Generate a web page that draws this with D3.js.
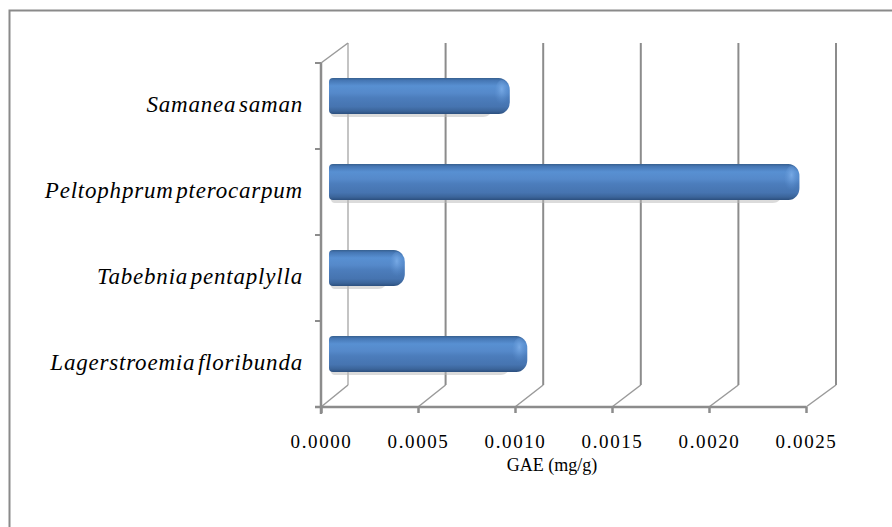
<!DOCTYPE html>
<html>
<head>
<meta charset="utf-8">
<script src="https://cdn.jsdelivr.net/npm/d3@7/dist/d3.min.js"></script>
<style>
  html, body { margin: 0; padding: 0; background: #ffffff; }
  svg { display: block; }
</style>
</head>
<body>
<div id="chart"></div>
<script>
// ---- data ----
const categories = ["Samanea saman", "Peltophprum pterocarpum", "Tabebnia pentaplylla", "Lagerstroemia floribunda"];
const values = [0.00093, 0.00242, 0.00039, 0.00102];
const tickValues = [0, 0.0005, 0.0010, 0.0015, 0.0020, 0.0025];
const tickLabels = ["0.0000", "0.0005", "0.0010", "0.0015", "0.0020", "0.0025"];
const axisTitle = "GAE (mg/g)";

// ---- layout ----
const W = 892, H = 527;
const svg = d3.select("#chart").append("svg").attr("width", W).attr("height", H);

const frontLeft = 321, frontRight = 806, frontTop = 63, frontBottom = 407;

const xFront = d3.scaleLinear().domain([0, 0.0025]).range([frontLeft, frontRight]);
const xBack = d3.scaleLinear().domain([0, 0.0025]).range([frontLeft + 27, frontRight + 30]);
const xBar = d3.scaleLinear().domain([0, 0.0025]).range([329, 815]);
const yBand = d3.scaleBand().domain(categories).range([frontTop, frontBottom]).padding(0);

const gridColor = "#8c8c8c";
const serif = "Liberation Serif";

// outer frame
svg.append("rect").attr("x", 9.5).attr("y", 10.5).attr("width", 950).attr("height", 600)
  .attr("fill", "none").attr("stroke", "#8a8a8a").attr("stroke-width", 2);

// defs
const defs = svg.append("defs");
const grad = defs.append("linearGradient").attr("id", "barGrad")
  .attr("x1", 0).attr("y1", 0).attr("x2", 0).attr("y2", 1);
[["0%", "#36608f"], ["7%", "#4677b5"], ["22%", "#5890d2"], ["42%", "#5589ca"],
 ["55%", "#4c7dbc"], ["80%", "#4674b0"], ["92%", "#3b6499"], ["100%", "#2b4f7e"]]
  .forEach(([o, c]) => grad.append("stop").attr("offset", o).attr("stop-color", c));

const capGrad = defs.append("radialGradient").attr("id", "capGrad")
  .attr("cx", "0.5").attr("cy", "0.35").attr("r", "0.6");
capGrad.append("stop").attr("offset", "0%").attr("stop-color", "#7fb0ea").attr("stop-opacity", 0.8);
capGrad.append("stop").attr("offset", "100%").attr("stop-color", "#5a8fd0").attr("stop-opacity", 0);

// back wall gridlines
const gGrid = svg.append("g");
gGrid.selectAll("line.grid").data(tickValues).join("line")
  .attr("x1", d => xBack(d)).attr("x2", d => xBack(d))
  .attr("y1", frontTop - 20).attr("y2", frontBottom - 22)
  .attr("stroke", (d, i) => i === 0 ? "#c4c4c4" : gridColor)
  .attr("stroke-width", 2);

// floor diagonals
gGrid.selectAll("line.diag").data(tickValues).join("line")
  .attr("x1", d => xFront(d)).attr("y1", frontBottom)
  .attr("x2", d => xBack(d)).attr("y2", frontBottom - 22)
  .attr("stroke", "#9a9a9a").attr("stroke-width", 1.5);

// top-left diagonal
gGrid.append("line")
  .attr("x1", frontLeft).attr("y1", frontTop)
  .attr("x2", xBack(0)).attr("y2", frontTop - 20)
  .attr("stroke", "#9a9a9a").attr("stroke-width", 1.5);

// bars
const barH = 36, barShift = -10;
function barPath(x0, x1, y0, h) {
  const rl = 4, rx = 11, ry = 12;
  return `M${x0 + rl},${y0} L${x1 - rx},${y0} A${rx},${ry} 0 0 1 ${x1},${y0 + ry} L${x1},${y0 + h - ry} A${rx},${ry} 0 0 1 ${x1 - rx},${y0 + h} L${x0 + rl},${y0 + h} A${rl},${rl} 0 0 1 ${x0},${y0 + h - rl} L${x0},${y0 + rl} A${rl},${rl} 0 0 1 ${x0 + rl},${y0} Z`;
}
const gBars = svg.append("g");
const barData = categories.map((c, i) => ({ c, v: values[i] }));
gBars.selectAll("path.shadow").data(barData).join("path")
  .attr("class", "shadow")
  .attr("d", d => barPath(xBar(0) + 2, xBar(d.v) - 16, yBand(d.c) + yBand.bandwidth() / 2 + barShift - barH / 2 + 3, barH))
  .attr("fill", "#b8b8b8").attr("opacity", 0.5);
gBars.selectAll("path.bar").data(barData).join("path")
  .attr("class", "bar")
  .attr("d", d => barPath(xBar(0), xBar(d.v), yBand(d.c) + yBand.bandwidth() / 2 + barShift - barH / 2, barH))
  .attr("fill", "url(#barGrad)");
gBars.selectAll("ellipse.cap").data(barData).join("ellipse")
  .attr("cx", d => xBar(d.v) - 8).attr("cy", d => yBand(d.c) + yBand.bandwidth() / 2 + barShift - 3)
  .attr("rx", 7).attr("ry", 13)
  .attr("fill", "url(#capGrad)");

// front axes
const gAx = svg.append("g");
gAx.append("line").attr("x1", frontLeft).attr("x2", frontLeft)
  .attr("y1", frontTop).attr("y2", frontBottom + 7)
  .attr("stroke", gridColor).attr("stroke-width", 2.5);
gAx.append("line").attr("x1", frontLeft - 6).attr("x2", frontRight)
  .attr("y1", frontBottom).attr("y2", frontBottom)
  .attr("stroke", gridColor).attr("stroke-width", 2.5);
const boundaries = categories.map(c => yBand(c)).concat([yBand.range()[1]]);
gAx.selectAll("line.ltick").data(boundaries).join("line")
  .attr("x1", frontLeft - 6).attr("x2", frontLeft)
  .attr("y1", d => d).attr("y2", d => d)
  .attr("stroke", gridColor).attr("stroke-width", 2);

// bottom axis (ticks + labels)
const xAxis = d3.axisBottom(xFront).tickValues(tickValues)
  .tickFormat((d, i) => tickLabels[i]).tickSize(6).tickSizeOuter(0);
const gx = svg.append("g").attr("transform", `translate(0,${frontBottom})`).call(xAxis);
gx.select(".domain").remove();
gx.selectAll(".tick line").attr("stroke", gridColor).attr("stroke-width", 2.5);
gx.selectAll(".tick text")
  .attr("y", 41).attr("dy", 0)
  .attr("fill", "#000")
  .style("font-family", serif)
  .style("font-size", "19px")
  .style("letter-spacing", "1.6px");

// category labels
svg.append("g").selectAll("text").data(categories).join("text")
  .attr("x", 303)
  .attr("y", d => yBand(d) + yBand.bandwidth() / 2 + 6)
  .attr("text-anchor", "end")
  .attr("font-family", serif)
  .attr("font-style", "italic")
  .attr("font-size", 23)
  .attr("letter-spacing", 0.8)
  .attr("word-spacing", -4)
  .attr("fill", "#000")
  .text(d => d);

// axis title
svg.append("text")
  .attr("x", 552)
  .attr("y", 471)
  .attr("text-anchor", "middle")
  .style("font-family", serif)
  .style("font-size", "18px")
  .attr("fill", "#000")
  .text(axisTitle);
</script>
</body>
</html>
